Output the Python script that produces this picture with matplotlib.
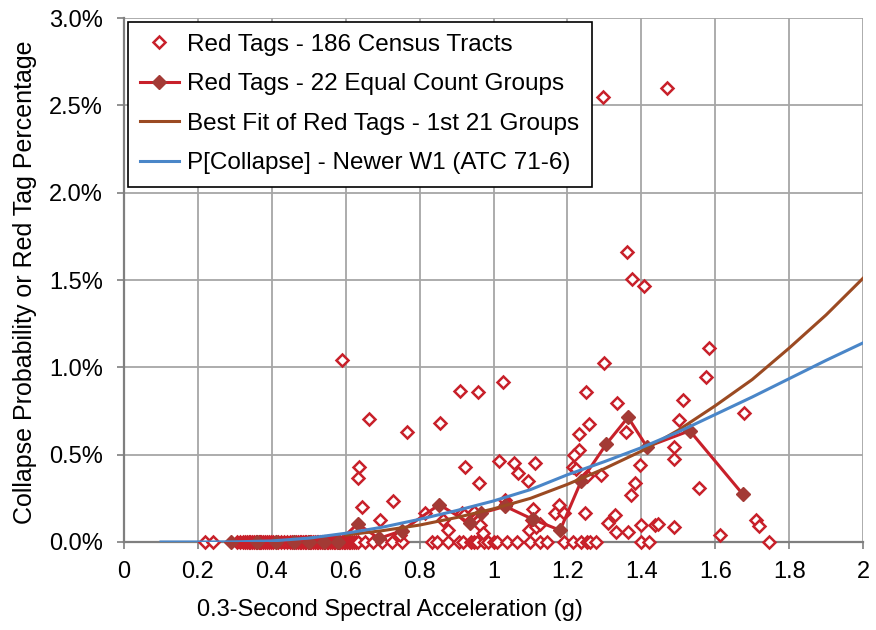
import matplotlib
matplotlib.use("Agg")
import matplotlib.pyplot as plt
from matplotlib.ticker import FuncFormatter, MultipleLocator

plt.rcParams["font.family"] = ["Liberation Sans", "DejaVu Sans"]

# census tracts with no red tags (spectral acceleration, g)
zero_tract_sa = [0.219, 0.240,
                 0.305, 0.315, 0.322, 0.328, 0.333, 0.337, 0.342, 0.347, 0.351, 0.356,
                 0.360, 0.364, 0.368, 0.372, 0.377, 0.381, 0.386, 0.391, 0.397, 0.404,
                 0.412, 0.418, 0.425, 0.433, 0.441, 0.448, 0.455, 0.461, 0.466, 0.471,
                 0.476, 0.480, 0.484, 0.489, 0.493, 0.498, 0.502, 0.507, 0.511, 0.516,
                 0.521, 0.526, 0.531, 0.535, 0.540, 0.544, 0.549, 0.553, 0.558, 0.563,
                 0.567, 0.571, 0.576, 0.581, 0.585, 0.590, 0.594, 0.599, 0.603, 0.608,
                 0.612, 0.617, 0.622, 0.627, 0.633, 0.652, 0.674, 0.698, 0.725, 0.752,
                 0.834, 0.846, 0.878, 0.907, 0.916, 0.938, 0.947, 0.956, 0.975, 0.984,
                 1.000, 1.010, 1.036, 1.063, 1.099, 1.125, 1.145, 1.190, 1.214, 1.238,
                 1.253, 1.261, 1.278, 1.399, 1.422, 1.746]

# census tracts with red tags (g, %)
tract_sa = [0.589, 0.664, 0.635, 0.633, 0.645, 0.693, 0.729, 0.747, 0.767, 0.815,
            0.854, 0.862, 0.876, 0.910, 0.914, 0.920, 0.924, 0.947, 0.953, 0.958,
            0.962, 0.963, 0.972, 1.016, 1.026, 1.030, 1.034, 1.055, 1.067, 1.094,
            1.112, 1.107, 1.103, 1.096, 1.115, 1.127, 1.166, 1.178, 1.191, 1.248,
            1.310, 1.296, 1.470, 1.360, 1.374, 1.407, 1.300, 1.584, 1.574, 1.250,
            1.333, 1.512, 1.259, 1.232, 1.358, 1.502, 1.677, 1.232, 1.218, 1.489,
            1.489, 1.216, 1.223, 1.396, 1.254, 1.290, 1.383, 1.371, 1.555, 1.329,
            1.331, 1.363, 1.399, 1.437, 1.446, 1.489, 1.710, 1.719, 1.613]
tract_pct = [1.040, 0.704, 0.428, 0.368, 0.202, 0.126, 0.235, 0.040, 0.632, 0.168,
             0.683, 0.126, 0.069, 0.863, 0.168, 0.155, 0.428, 0.174, 0.136, 0.857,
             0.336, 0.100, 0.050, 0.464, 0.918, 0.241, 0.216, 0.454, 0.393, 0.351,
             0.454, 0.187, 0.126, 0.069, 0.088, 0.103, 0.164, 0.212, 0.168, 0.164,
             0.111, 2.549, 2.600, 1.663, 1.505, 1.468, 1.027, 1.113, 0.947, 0.861,
             0.794, 0.813, 0.674, 0.617, 0.632, 0.699, 0.737, 0.527, 0.498, 0.542,
             0.475, 0.431, 0.416, 0.441, 0.378, 0.384, 0.336, 0.269, 0.307, 0.152,
             0.059, 0.059, 0.097, 0.097, 0.103, 0.084, 0.126, 0.092, 0.040]

# 22 equal count groups
group_sa = [0.29, 0.36, 0.41, 0.46, 0.50, 0.54, 0.58, 0.632, 0.69, 0.752, 0.853,
            0.936, 0.966, 1.032, 1.106, 1.180, 1.237, 1.305, 1.364, 1.415, 1.531, 1.674]
group_pct = [0.0, 0.0, 0.0, 0.0, 0.0, 0.0, 0.0, 0.104, 0.02, 0.065, 0.214,
             0.107, 0.165, 0.204, 0.130, 0.067, 0.348, 0.560, 0.714, 0.545, 0.637, 0.275]

# best fit curve
fit_sa = [0.6, 0.7, 0.8, 0.9, 1.0, 1.1, 1.2, 1.3, 1.4, 1.5, 1.6, 1.7, 1.8, 1.9, 2.0]
fit_pct = [0.04, 0.065, 0.097, 0.14, 0.19, 0.25, 0.33, 0.42, 0.52, 0.64, 0.78,
           0.93, 1.11, 1.30, 1.51]

# ATC 71-6 collapse probability
atc_sa = [0.1, 0.2, 0.3, 0.4, 0.5, 0.6, 0.7, 0.8, 0.9, 1.0, 1.1, 1.2, 1.3, 1.4,
          1.5, 1.6, 1.7, 1.8, 1.9, 2.0]
atc_pct = [0.0, 0.0, 0.001, 0.006, 0.022, 0.05, 0.085, 0.13, 0.18, 0.235, 0.30,
           0.385, 0.46, 0.54, 0.63, 0.73, 0.83, 0.935, 1.04, 1.14]

red = "#C8202A"
dark_red = "#A33A35"
brown = "#9B4A22"
blue = "#4A86C8"

fig = plt.figure(figsize=(8.76, 6.3), dpi=100)
ax = fig.add_axes([0.1416, 0.1397, 0.8436, 0.8317])

ax.plot(zero_tract_sa + tract_sa,
        [0.0] * len(zero_tract_sa) + [p / 100 for p in tract_pct],
        linestyle="none", marker="D", markersize=6, markerfacecolor="white",
        markeredgecolor=red, markeredgewidth=1.8, zorder=3, clip_on=False,
        label="Red Tags - 186 Census Tracts")
ax.plot(group_sa, [p / 100 for p in group_pct], color=red, linewidth=2.2,
        marker="D", markersize=7, markerfacecolor=dark_red, markeredgecolor=dark_red,
        zorder=4, clip_on=False, label="Red Tags - 22 Equal Count Groups")
ax.plot(fit_sa, [p / 100 for p in fit_pct], color=brown, linewidth=2.2, zorder=5,
        label="Best Fit of Red Tags - 1st 21 Groups")
ax.plot(atc_sa, [p / 100 for p in atc_pct], color=blue, linewidth=2.2, zorder=6,
        label="P[Collapse] - Newer W1 (ATC 71-6)")

ax.set_xlim(0, 2)
ax.set_ylim(0, 0.03)
ax.xaxis.set_major_locator(MultipleLocator(0.2))
ax.yaxis.set_major_locator(MultipleLocator(0.005))
ax.xaxis.set_major_formatter(FuncFormatter(lambda v, _: f"{v:g}"))
ax.yaxis.set_major_formatter(FuncFormatter(lambda v, _: f"{v * 100:.1f}%"))
ax.grid(True, color="#A6A6A6", linewidth=1.3)
ax.set_axisbelow(True)
for side in ["top", "right"]:
    ax.spines[side].set_visible(False)
for side in ["left", "bottom"]:
    ax.spines[side].set_color("#7F7F7F")
    ax.spines[side].set_linewidth(1.6)
ax.tick_params(axis="both", labelsize=17, color="#7F7F7F", length=5, width=1.2)
ax.tick_params(axis="y", pad=10)
ax.tick_params(axis="x", pad=9)

ax.set_xlabel("0.3-Second Spectral Acceleration (g)", fontsize=17)
ax.xaxis.set_label_coords(0.36, -0.108)
ax.set_ylabel("Collapse Probability or Red Tag Percentage", fontsize=18)
ax.yaxis.set_label_coords(-0.118, 0.496)

leg = ax.legend(loc="upper left", fontsize=17.5, frameon=True, fancybox=False,
                edgecolor="black", framealpha=1, borderpad=0.5, labelspacing=0.72,
                handlelength=1.6, handletextpad=0.35, borderaxespad=0.15)
leg.get_frame().set_linewidth(1.2)

fig.savefig("out.png", dpi=100)
